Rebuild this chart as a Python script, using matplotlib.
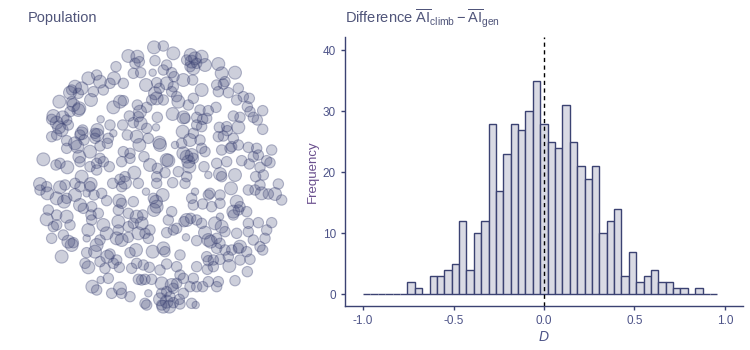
import numpy as np
import matplotlib
matplotlib.use("Agg")
import matplotlib.pyplot as plt

plt.rcParams['font.family'] = ['Liberation Sans', 'DejaVu Sans']
plt.rcParams['mathtext.fontset'] = 'custom'
plt.rcParams['mathtext.rm'] = 'Liberation Sans'
plt.rcParams['mathtext.it'] = 'Liberation Sans:italic'

# individuals in the population (field units, y grows downward) and their size class
pop_x = [
    402, 430, 460, 325, 352, 358, 345, 405, 512, 525, 545, 515, 500, 530, 555, 595, 440,
    288, 340, 362, 398, 430, 455, 462, 520, 510, 605, 645, 205, 230, 240, 270, 282, 310, 378, 410, 418, 440, 460, 490, 518, 615, 610, 590, 655,
    165, 155, 150, 185, 175, 220, 213, 118, 155, 160, 178, 250, 405, 410, 395, 430, 470, 475, 455, 520, 505, 545, 595, 625, 650, 670, 688, 682, 280, 300, 310, 352, 380, 540, 565, 588, 728,
    100, 95, 128, 140, 110, 150, 175, 242, 328, 360, 355, 362, 340, 412, 458, 490, 495, 530, 548, 560, 530, 545, 640, 660, 700, 712, 690, 117, 145, 125, 270, 308, 380, 408, 598, 620, 655, 622, 728, 232, 225, 188, 185,
    95, 110, 140, 165, 172, 180, 192, 232, 225, 265, 280, 322, 350, 358, 385, 418, 420, 465, 488, 510, 520, 540, 610, 595, 640, 635, 655, 685, 710, 755, 140, 210, 240, 262, 310, 330, 440, 490, 500, 515, 505, 520, 485, 545, 555, 605, 630, 700, 715,
    70, 108, 120, 142, 178, 180, 240, 250, 230, 268, 305, 330, 372, 390, 412, 445, 508, 475, 552, 590, 620, 665, 688, 740, 750, 720, 210, 230, 185, 315, 343, 410, 435, 500, 565, 600, 605, 645, 707, 730,
    60, 80, 60, 82, 120, 135, 165, 180, 212, 210, 278, 300, 315, 305, 355, 378, 410, 458, 495, 525, 570, 600, 565, 633, 685, 705, 720, 725, 745, 775, 765, 785, 110, 140, 132, 165, 200, 222, 245, 260, 298, 305, 340, 400, 428, 515, 650, 660,
    85, 80, 110, 140, 180, 190, 215, 235, 213, 295, 325, 350, 368, 365, 402, 410, 408, 455, 445, 492, 500, 512, 530, 545, 520, 548, 575, 600, 640, 655, 680, 640, 600, 685, 715, 755, 585, 605, 100, 110, 150, 205, 215, 250, 295, 325, 340,
    95, 130, 145, 155, 160, 200, 230, 240, 260, 295, 290, 305, 325, 355, 375, 390, 385, 440, 460, 470, 498, 530, 555, 565, 572, 590, 615, 600, 650, 685, 740, 735, 700, 720, 728, 660, 655, 635, 590, 615,
    125, 200, 225, 262, 270, 290, 348, 330, 398, 430, 435, 480, 560, 565, 580, 600, 625, 660, 690, 680, 195, 205, 240, 255, 280, 298, 335, 350, 370, 388, 420, 440, 470, 480, 530, 562, 580, 628, 682,
    242, 265, 217, 230, 275, 300, 305, 330, 355, 365, 375, 395, 425, 455, 460, 470, 490, 520, 510, 530, 548, 565, 590, 595, 645, 385, 425, 440, 450, 490,
    380, 375, 420, 425, 440, 448, 430, 460, 478, 480, 515, 527,
]
pop_y = [
    52, 48, 70, 78, 80, 95, 100, 92, 75, 85, 80, 95, 90, 100, 105, 102, 105,
    110, 130, 128, 128, 120, 128, 140, 115, 110, 130, 128, 145, 135, 155, 160, 145, 160, 165, 158, 175, 160, 170, 150, 150, 155, 162, 165, 175,
    170, 180, 188, 175, 190, 185, 210, 215, 215, 225, 235, 180, 190, 205, 210, 210, 200, 215, 185, 205, 225, 180, 185, 188, 210, 200, 205, 230, 232, 215, 212, 225, 232, 240, 242, 232, 242,
    258, 268, 262, 270, 278, 245, 240, 268, 258, 245, 260, 280, 278, 262, 252, 262, 265, 262, 268, 265, 285, 290, 258, 262, 262, 270, 245, 292, 285, 300, 285, 285, 295, 292, 292, 290, 292, 302, 298, 300, 310, 300, 310,
    320, 315, 332, 340, 350, 315, 330, 315, 325, 325, 310, 315, 320, 345, 325, 338, 345, 345, 305, 330, 310, 330, 318, 320, 325, 350, 345, 352, 355, 360, 355, 365, 348, 340, 365, 370, 390, 370, 380, 375, 395, 385, 340, 355, 365, 360, 355, 380, 375,
    388, 405, 400, 412, 380, 395, 385, 395, 400, 410, 395, 385, 380, 405, 415, 392, 410, 425, 410, 400, 395, 392, 402, 392, 398, 412, 410, 420, 440, 440, 428, 440, 428, 440, 435, 432, 440, 435, 440, 435,
    462, 470, 480, 490, 472, 465, 460, 470, 462, 470, 460, 448, 458, 470, 460, 485, 460, 458, 460, 485, 490, 495, 495, 475, 480, 480, 465, 490, 492, 462, 492, 510, 505, 505, 515, 495, 490, 495, 490, 512, 512, 520, 515, 505, 495, 505, 515, 530,
    540, 568, 555, 560, 525, 535, 530, 550, 555, 540, 550, 560, 555, 580, 540, 530, 515, 545, 570, 575, 570, 565, 570, 580, 525, 522, 530, 520, 545, 540, 545, 555, 560, 580, 578, 578, 580, 590, 590, 585, 585, 600, 570, 585, 575, 590, 580,
    625, 615, 635, 645, 638, 625, 645, 630, 610, 600, 625, 630, 622, 610, 610, 600, 625, 608, 600, 595, 622, 632, 608, 630, 635, 625, 605, 640, 610, 605, 600, 625, 630, 650, 660, 650, 655, 660, 655, 660,
    680, 668, 665, 680, 672, 690, 660, 668, 665, 655, 665, 675, 680, 692, 690, 688, 680, 690, 688, 665, 700, 712, 695, 715, 700, 712, 715, 700, 705, 712, 720, 702, 710, 735, 710, 718, 710, 708, 725,
    750, 745, 770, 780, 790, 775, 790, 800, 748, 750, 748, 748, 760, 765, 775, 760, 745, 745, 770, 770, 770, 755, 770, 755, 752, 790, 790, 785, 800, 790,
    825, 820, 808, 825, 815, 830, 830, 818, 808, 822, 820, 825,
]
pop_size = [
    3, 2, 3, 3, 3, 2, 2, 2, 3, 3, 3, 3, 2, 2, 3, 3, 2,
    2, 2, 2, 1, 2, 2, 2, 3, 2, 3, 3, 3, 2, 3, 2, 3, 2, 3, 2, 2, 3, 2, 3, 2, 2, 2, 2, 2,
    3, 2, 3, 3, 2, 2, 3, 3, 2, 3, 3, 2, 3, 3, 2, 2, 2, 3, 2, 2, 2, 3, 2, 2, 2, 2, 2, 2, 3, 3, 2, 2, 2, 2, 2, 2, 2,
    3, 2, 3, 2, 3, 2, 3, 1, 2, 3, 2, 3, 2, 2, 3, 3, 2, 2, 2, 2, 2, 2, 2, 2, 2, 2, 2, 3, 2, 3, 2, 2, 2, 1, 2, 2, 3, 2, 2, 3, 2, 2, 3,
    2, 2, 2, 3, 3, 2, 2, 3, 2, 2, 1, 2, 3, 3, 2, 3, 3, 1, 3, 3, 2, 2, 2, 2, 2, 2, 2, 2, 2, 2, 2, 3, 2, 2, 2, 2, 3, 3, 3, 3, 3, 2, 2, 2, 2, 2, 2, 2, 2,
    3, 2, 2, 3, 3, 2, 2, 2, 2, 2, 2, 2, 2, 3, 2, 3, 3, 2, 2, 2, 2, 2, 2, 2, 2, 2, 2, 2, 3, 2, 3, 2, 2, 2, 1, 3, 2, 3, 2, 2,
    3, 2, 2, 3, 3, 2, 2, 2, 3, 2, 2, 2, 3, 2, 2, 1, 2, 2, 2, 1, 2, 2, 2, 3, 2, 2, 2, 3, 2, 2, 3, 2, 3, 2, 3, 3, 1, 2, 2, 2, 3, 2, 2, 2, 3, 2, 3, 2,
    2, 3, 2, 3, 3, 2, 2, 2, 2, 2, 2, 3, 2, 3, 3, 3, 3, 2, 2, 2, 3, 2, 2, 2, 2, 2, 2, 2, 3, 2, 2, 2, 1, 2, 2, 2, 3, 3, 2, 2, 2, 3, 2, 3, 3, 2, 2,
    2, 2, 3, 3, 2, 1, 3, 2, 3, 2, 3, 3, 2, 3, 2, 2, 2, 2, 2, 2, 1, 2, 3, 3, 3, 2, 2, 2, 2, 2, 2, 2, 2, 2, 2, 3, 2, 2, 2, 2,
    3, 2, 3, 3, 2, 2, 3, 2, 3, 3, 2, 2, 2, 2, 2, 2, 2, 2, 2, 2, 2, 3, 2, 2, 2, 2, 2, 2, 2, 2, 2, 2, 2, 2, 2, 2, 2, 3, 2,
    1, 2, 3, 2, 2, 3, 2, 2, 2, 2, 2, 2, 3, 3, 2, 2, 2, 2, 2, 2, 2, 2, 2, 2, 2, 1, 2, 2, 2, 2,
    2, 2, 3, 2, 3, 3, 3, 2, 2, 2, 2, 1,
]

# permutation differences D, binned counts
bin_lo = -1.0
bin_width = 0.0408
counts = [0, 0, 0, 0, 0, 0, 2, 1, 0, 3, 3, 4, 5, 12, 4, 10, 12, 28, 17, 23,
          28, 27, 30, 35, 28, 25, 24, 31, 25, 21, 19, 21, 10, 12, 14, 3, 7, 2, 3, 4,
          2, 2, 1, 1, 0, 1, 0, 0]

navy = '#3b4272'
fig = plt.figure(figsize=(7.5, 3.5), dpi=100)

# left: population layout
ax1 = fig.add_axes([20 / 750, 30 / 350, 270 / 750, 290 / 350])
marker_area = {1: 28, 2: 56, 3: 86}
ax1.scatter(pop_x, pop_y, s=[marker_area[k] for k in pop_size],
            facecolor=(0.23, 0.26, 0.45, 0.25), edgecolor=(0.23, 0.26, 0.45, 0.36),
            linewidth=0.8)
ax1.set_xlim(0, 810)
ax1.set_ylim(870, 0)
ax1.axis('off')
fig.text(28 / 750, 1 - 18 / 350, 'Population', fontsize=10.5, color='#50557a', va='center')

# right: histogram of D
ax2 = fig.add_axes([345 / 750, 44 / 350, 398 / 750, 269 / 350])
edges = bin_lo + bin_width * np.arange(len(counts) + 1)
ax2.bar(edges[:-1], counts, width=bin_width, align='edge',
        color='#d9dae4', edgecolor=navy, linewidth=1.0)
ax2.axvline(0, color='black', linestyle=(0, (3, 2.5)), linewidth=1.0)
ax2.set_xlim(-1.1, 1.1)
ax2.set_ylim(-1.9, 42.2)
ax2.set_xticks([-1.0, -0.5, 0.0, 0.5, 1.0])
ax2.set_xticklabels(['-1.0', '-0.5', '0.0', '0.5', '1.0'])
ax2.set_yticks([0, 10, 20, 30, 40])
for side in ['top', 'right']:
    ax2.spines[side].set_visible(False)
for side in ['left', 'bottom']:
    ax2.spines[side].set_color(navy)
    ax2.spines[side].set_linewidth(1.0)
ax2.tick_params(colors=navy, labelcolor='#4d5388', labelsize=8.5, length=3, width=1.0)
ax2.set_xlabel('$D$', fontsize=10, color='#4d5388', labelpad=2)
ax2.set_ylabel('Frequency', fontsize=9.5, color='#6a4f8e', labelpad=3)
fig.text(345 / 750, 1 - 18 / 350,
         r'Difference $\overline{\mathrm{AI}}_{\mathrm{climb}} - \overline{\mathrm{AI}}_{\mathrm{gen}}$',
         fontsize=10.5, color='#50557a', va='center')

fig.savefig('out.png', dpi=100)
